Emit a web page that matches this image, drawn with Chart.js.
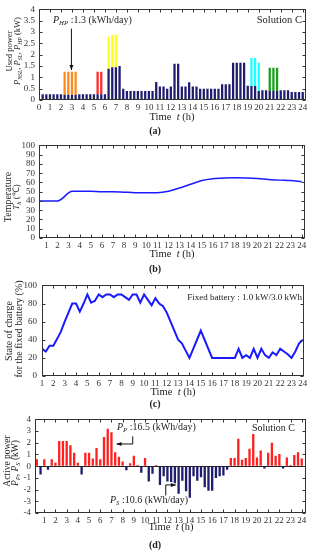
<!DOCTYPE html>
<html>
<head>
<meta charset="utf-8">
<script src="https://cdn.jsdelivr.net/npm/chart.js@4.4.1/dist/chart.umd.min.js"></script>
<style>
  body { margin: 0; background: #fff; overflow: hidden; }
  #fig { position: relative; width: 310px; height: 550px; overflow: hidden;
         font-family: "Liberation Serif", "Times New Roman", serif; color: #222; }
  canvas { position: absolute; left: 0; }
  .t { position: absolute; white-space: nowrap; line-height: 1; }
  .c { transform: translate(-50%, -50%); }
  .l { transform: translate(0, -50%); }
  .rt { transform: translate(-100%, -50%); }
  .r { transform: translate(-50%, -50%) rotate(-90deg); }
  .cap { font-weight: bold; font-size: 10px; }
  sub { font-size: 68%; vertical-align: baseline; position: relative; top: 0.3em; }
</style>
</head>
<body>
<div id="fig">
  <canvas id="chartA" width="320" height="112" style="top:0px"></canvas>
  <canvas id="chartB" width="320" height="114" style="top:136px"></canvas>
  <canvas id="chartC" width="320" height="113" style="top:275px"></canvas>
  <canvas id="chartD" width="320" height="115" style="top:410px"></canvas>

  <!-- (a) -->
  <div class="t r" style="left:8.5px;top:51px;font-size:8.5px">Used power</div>
  <div class="t r" style="left:17px;top:51px;font-size:8.5px"><i>P<sub>NSL</sub></i>, <i>P<sub>SL</sub></i>, <i>P<sub>HP</sub></i> (kW)</div>
  <div class="t l" style="left:53px;top:20px;font-size:10px"><i>P<sub>HP</sub></i> :1.3 (kWh/day)</div>
  <div class="t rt" style="left:302px;top:20px;font-size:10.5px">Solution C</div>
  <div class="t c" style="left:172px;top:117px;font-size:10.5px">Time&nbsp; <i>t</i> (h)</div>
  <div class="t c cap" style="left:155px;top:131px">(a)</div>

  <!-- (b) -->
  <div class="t r" style="left:8px;top:197px;font-size:10px">Temperature</div>
  <div class="t r" style="left:16px;top:197px;font-size:9px"><i>T<sub>h</sub></i> (&#8451;)</div>
  <div class="t c" style="left:172px;top:254px;font-size:10.5px">Time&nbsp; <i>t</i> (h)</div>
  <div class="t c cap" style="left:155px;top:269px">(b)</div>

  <!-- (c) -->
  <div class="t r" style="left:8.5px;top:331px;font-size:10px">State of charge</div>
  <div class="t r" style="left:19px;top:329px;font-size:10px">for the fixed battery (%)</div>
  <div class="t rt" style="left:302px;top:297px;font-size:9px">Fixed battery : 1.0 kW/3.0 kWh</div>
  <div class="t c" style="left:173px;top:392px;font-size:10.5px">Time&nbsp; <i>t</i> (h)</div>
  <div class="t c cap" style="left:155px;top:404px">(c)</div>

  <!-- (d) -->
  <div class="t r" style="left:7.5px;top:461px;font-size:9.5px">Active power</div>
  <div class="t r" style="left:15.5px;top:463px;font-size:9.5px"><i>P<sub>P</sub></i>, <i>P<sub>S</sub></i> (kW)</div>
  <div class="t l" style="left:117px;top:427px;font-size:10px"><i>P<sub>P</sub></i> :16.5 (kWh/day)</div>
  <div class="t rt" style="left:295px;top:428px;font-size:10px">Solution C</div>
  <div class="t l" style="left:110px;top:500px;font-size:10px"><i>P<sub>S</sub></i> :10.6 (kWh/day)</div>
  <div class="t c" style="left:171px;top:527px;font-size:10.5px">Time&nbsp; <i>t</i> (h)</div>
  <div class="t c cap" style="left:155px;top:545px">(d)</div>
</div>

<script>
// ---- data -------------------------------------------------------------
// 20-minute slots, slot k sits at t = k/3 h (k = 1..72)
const slotCount = 72;
const slotHours = Array.from({ length: slotCount }, (_, i) => (i + 1) / 3);

const hourTicksFrom0 = [0, 1, 2, 3, 4, 5, 6, 7, 8, 9, 10, 11, 12, 13, 14, 15, 16, 17, 18, 19, 20, 21, 22, 23, 24];
const hourTicksFrom1 = [1, 2, 3, 4, 5, 6, 7, 8, 9, 10, 11, 12, 13, 14, 15, 16, 17, 18, 19, 20, 21, 22, 23, 24];

// (a) used power, kW
const nslPower = [
  0.25, 0.25, 0.25, 0.25, 0.25, 0.25, 0.23, 0.23, 0.23, 0.23, 0.25, 0.25, 0.25, 0.25, 0.25, 0.25, 0.25, 0.25,
  1.38, 1.45, 1.45, 1.5, 0.5, 0.4, 0.4, 0.4, 0.4, 0.4, 0.4, 0.4, 0.4, 0.8, 0.6, 0.6, 0.5, 0.6,
  1.6, 1.6, 0.6, 0.6, 0.78, 0.6, 0.6, 0.5, 0.5, 0.5, 0.5, 0.5, 0.5, 0.7, 0.7, 0.7,
  1.65, 1.65, 1.65, 1.65, 0.63, 0.62, 0.62, 0.4, 0.43, 0.43, 0.4, 0.4, 0.4, 0.43, 0.43, 0.43, 0.35, 0.35, 0.35, 0.35,
];
const hpSlots = [7, 8, 9, 10];
const hpPower = [1.02, 1.02, 1.02, 1.02];
const slRedSlots = [16, 17];
const slRedPower = [1.0, 1.0];
const slYellowSlots = [19, 20, 21];
const slYellowPower = [1.42, 1.43, 1.43];
const slCyanSlots = [58, 59, 60];
const slCyanPower = [1.23, 1.23, 1.25];
const slGreenSlots = [63, 64, 65];
const slGreenPower = [1.02, 1.02, 1.02];

// (b) tank temperature, deg C
const tempHours = [0.33, 1, 2, 3.33, 4, 5, 6, 7, 8, 9, 10, 11, 12, 13, 14, 15, 16, 17, 18, 19, 20, 21, 22, 23, 24];
const tempValues = [40, 40, 40, 50.5, 50.5, 50.5, 50, 50, 49.5, 49, 49, 49, 50.5, 54, 58, 62, 64, 64.8, 65, 64.8, 64.3, 63.3, 62.5, 62, 61];

// (c) state of charge, %, every 20 min from t = 1 h
const socValues = [
  30, 27, 33.5, 33.5, 41, 49, 60, 70, 80,
  80, 71, 80, 90, 81, 83, 90, 87, 90, 90, 87, 90, 90, 87, 84, 90, 90, 81, 90, 84, 78, 86, 80, 77, 70,
  60, 50, 40, 36, 28, 20, 30, 40, 50, 40, 30, 20,
  20, 20, 20, 20, 20, 20,
  30, 20, 23, 20, 30, 20, 30, 23, 20, 26, 23, 30, 27, 24, 20, 27, 36, 40,
];
const socHours = socValues.map((_, i) => 1 + i / 3);

// (d) active power, kW (positive P_P, negative P_S)
const activePower = [
  0.6, -0.7, 0.6, -0.3, 0.6, 0.3, 2.15, 2.15, 2.15, 1.8, 1.15, 0.3,
  -0.7, 1.15, 1.15, 0.65, 1.55, 0.6, 2.5, 3.2, 2.9, 1.2, 0.8, 0.4,
  -0.35, 0.25, 0.9, 0.1, -0.55, 0.7, -1.3, -0.65, 0.1, -1.6, -0.85, -1.3,
  -1.35, -1.45, -2.35, -1.25, -2.15, -2.7, -0.85, -1.25, -0.95, -1.8, -2.1, -2.1,
  -1.0, -0.85, -0.8, -0.3, 0.7, 0.7, 2.35, 0.55, 0.7, 1.5, 2.75, 0.75,
  1.35, -0.2, 1.15, 2.0, 0.9, 1.05, -0.2, 0.75, 0.1, 0.95, 1.2, 0.65,
];

// ---- styling ----------------------------------------------------------
const NAVY = '#1f1d6e';
const BLUE = '#1a1aff';

Chart.defaults.font.family = '"Liberation Serif", "Times New Roman", serif';
Chart.defaults.font.size = 9;
Chart.defaults.color = '#333';
Chart.defaults.animation = false;
Chart.defaults.plugins.legend.display = false;
Chart.defaults.plugins.tooltip.enabled = false;

// box around the plot with inward tick marks on every side
const frame = {
  id: 'frame',
  afterDraw(chart) {
    const { ctx, chartArea: a, scales: { x, y } } = chart;
    ctx.save();
    ctx.strokeStyle = '#333';
    ctx.lineWidth = 1;
    const L = Math.round(a.left) + 0.5, R = Math.round(a.right) - 0.5;
    const T = Math.round(a.top) + 0.5, B = Math.round(a.bottom) - 0.5;
    ctx.strokeRect(L, T, R - L, B - T);
    ctx.beginPath();
    x.ticks.forEach((t) => {
      const px = Math.round(x.getPixelForValue(t.value)) + 0.5;
      ctx.moveTo(px, B); ctx.lineTo(px, B - 3);
      ctx.moveTo(px, T); ctx.lineTo(px, T + 3);
    });
    y.ticks.forEach((t) => {
      const py = Math.round(y.getPixelForValue(t.value)) + 0.5;
      ctx.moveTo(L, py); ctx.lineTo(L + 3, py);
      ctx.moveTo(R, py); ctx.lineTo(R - 3, py);
    });
    ctx.stroke();
    ctx.restore();
  },
};

// annotation arrows, given in data units
const makeArrows = (paths) => ({
  id: 'arrows',
  afterDatasetsDraw(chart) {
    const { ctx, scales: { x, y } } = chart;
    paths.forEach((path) => {
      const pts = path.map(([vx, vy]) => [x.getPixelForValue(vx), y.getPixelForValue(vy)]);
      ctx.save();
      ctx.strokeStyle = '#111';
      ctx.fillStyle = '#111';
      ctx.lineWidth = 1;
      ctx.beginPath();
      pts.forEach(([px, py], i) => (i ? ctx.lineTo(px, py) : ctx.moveTo(px, py)));
      ctx.stroke();
      const [x1, y1] = pts[pts.length - 2];
      const [x2, y2] = pts[pts.length - 1];
      const ang = Math.atan2(y2 - y1, x2 - x1);
      const c = Math.cos(ang), s = Math.sin(ang);
      ctx.beginPath();
      ctx.moveTo(x2, y2);
      ctx.lineTo(x2 - 5 * c + 2 * s, y2 - 5 * s - 2 * c);
      ctx.lineTo(x2 - 5 * c - 2 * s, y2 - 5 * s + 2 * c);
      ctx.closePath();
      ctx.fill();
      ctx.restore();
    });
  },
});

const xAxis = (min, max, ticks) => ({
  type: 'linear',
  min,
  max,
  offset: false,
  stacked: true,
  grid: { display: false, drawTicks: false, offset: false },
  border: { display: false },
  afterBuildTicks: (s) => { s.ticks = ticks.map((v) => ({ value: v })); },
  afterFit: (s) => { s.height = 12; },
  ticks: { autoSkip: false, maxRotation: 0, padding: 2 },
});

const yAxis = (min, max, step, width, pad) => ({
  min,
  max,
  stacked: true,
  grid: { display: false, drawTicks: false },
  border: { display: false },
  afterFit: (s) => { s.width = width; },
  ticks: { stepSize: step, padding: pad, autoSkip: false, callback: (v) => v },
});

const toPoints = (xs, ys) => xs.map((x, i) => ({ x, y: ys[i] }));
const slotPoints = (slots, ys) => slots.map((k, i) => ({ x: slotHours[k - 1], y: ys[i] }));

const barStyle = { barPercentage: 0.62, categoryPercentage: 1, borderWidth: 0, stack: 's' };

// ---- (a) used power ---------------------------------------------------
new Chart(document.getElementById('chartA'), {
  type: 'bar',
  data: {
    datasets: [
      { ...barStyle, label: 'P_NSL', data: toPoints(slotHours, nslPower), backgroundColor: NAVY },
      { ...barStyle, label: 'P_HP', data: slotPoints(hpSlots, hpPower), backgroundColor: '#ff8a1c' },
      { ...barStyle, label: 'P_SL', data: slotPoints(slRedSlots, slRedPower), backgroundColor: '#ff2a2a' },
      { ...barStyle, label: 'P_SL', data: slotPoints(slYellowSlots, slYellowPower), backgroundColor: '#ffff1e' },
      { ...barStyle, label: 'P_SL', data: slotPoints(slCyanSlots, slCyanPower), backgroundColor: '#1effff' },
      { ...barStyle, label: 'P_SL', data: slotPoints(slGreenSlots, slGreenPower), backgroundColor: '#18a018' },
    ],
  },
  options: {
    responsive: false,
    layout: { padding: { top: 6, right: 14, left: 0, bottom: 0 } },
    scales: {
      x: xAxis(0, 24.3, hourTicksFrom0),
      y: yAxis(0, 4, 0.5, 39, 4),
    },
  },
  plugins: [frame, makeArrows([[[2.95, 3.15], [2.95, 1.32]]])],
});

// ---- (b) temperature --------------------------------------------------
new Chart(document.getElementById('chartB'), {
  type: 'line',
  data: {
    datasets: [{
      label: 'T_h',
      data: toPoints(tempHours, tempValues),
      borderColor: BLUE,
      borderWidth: 1.5,
      pointRadius: 0,
      cubicInterpolationMode: 'monotone',
    }],
  },
  options: {
    responsive: false,
    layout: { padding: { top: 6, right: 15, left: 0, bottom: 0 } },
    scales: {
      x: { ...xAxis(1 / 3, 24.3, hourTicksFrom1), stacked: false },
      y: { ...yAxis(0, 100, 10, 39, 4), stacked: false },
    },
  },
  plugins: [frame],
});

// ---- (c) state of charge ----------------------------------------------
new Chart(document.getElementById('chartC'), {
  type: 'line',
  data: {
    datasets: [{
      label: 'SOC',
      data: toPoints(socHours, socValues),
      borderColor: BLUE,
      borderWidth: 2,
      pointRadius: 0,
      tension: 0,
    }],
  },
  options: {
    responsive: false,
    layout: { padding: { top: 6, right: 16, left: 0, bottom: 0 } },
    scales: {
      x: { ...xAxis(1, 24.1, hourTicksFrom1), stacked: false },
      y: { ...yAxis(0, 100, 20, 42, 5), stacked: false },
    },
  },
  plugins: [frame],
});

// ---- (d) active power -------------------------------------------------
new Chart(document.getElementById('chartD'), {
  type: 'bar',
  data: {
    datasets: [{
      ...barStyle,
      label: 'P_P / P_S',
      data: toPoints(slotHours, activePower),
      backgroundColor: (c) => (c.raw && c.raw.y >= 0 ? '#ff2020' : NAVY),
    }],
  },
  options: {
    responsive: false,
    layout: { padding: { top: 6, right: 14, left: 0, bottom: 0 } },
    scales: {
      x: xAxis(0.17, 24.38, hourTicksFrom1),
      y: {
        ...yAxis(-4, 4, 1, 35, 4),
        grid: {
          display: true,
          drawTicks: false,
          color: (c) => (c.tick && c.tick.value === 0 ? '#222' : 'rgba(0,0,0,0)'),
        },
      },
    },
  },
  plugins: [frame, makeArrows([[[8.9, 2.55], [8.9, 1.9], [7.45, 1.9]], [[11.85, -2.5], [11.85, -1.6], [12.75, -1.6]]])],
});
</script>
</body>
</html>
